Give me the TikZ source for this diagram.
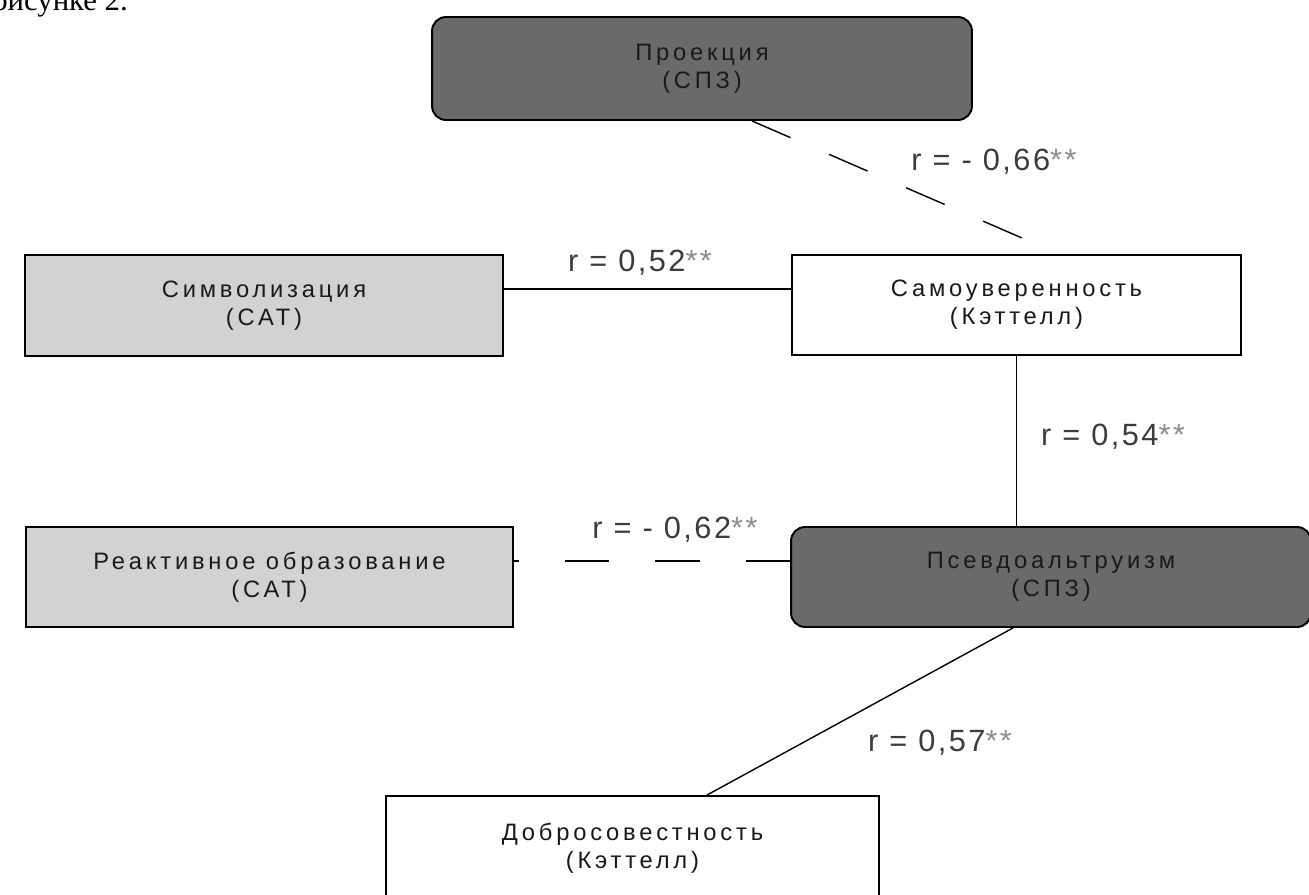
\documentclass[tikz,border=0pt]{standalone}
\usepackage{fontspec}
\setmainfont{Liberation Sans}
\newfontfamily\boxfont[LetterSpace=16]{Liberation Sans}
\newfontfamily\lblfont[LetterSpace=8]{Liberation Sans}
\newfontfamily\docfont{Liberation Serif}

\definecolor{darkbox}{RGB}{106,106,106}
\definecolor{lightbox}{RGB}{210,210,210}
\definecolor{textgray}{RGB}{60,60,60}
\definecolor{stargray}{RGB}{140,140,140}

\tikzset{
    scalebox/.style={draw=black, line width=1.1pt, align=center, inner sep=0pt,
        font=\boxfont\fontsize{13.5}{16}\selectfont, text=black!90},
    darkscale/.style={scalebox, fill=darkbox, rounded corners=0.28cm},
    lightscale/.style={scalebox, fill=lightbox},
    whitescale/.style={scalebox, fill=white},
    corrlabel/.style={font=\lblfont\fontsize{17.5}{20}\selectfont, text=textgray, inner sep=0pt},
    link/.style={line width=0.8pt, black}
}

\begin{document}
\begin{tikzpicture}[x=0.02cm, y=-0.02cm]
    % Frame of the picture
    \useasboundingbox (0,0) rectangle (1309,895);
    \clip (0,0) rectangle (1309,895);

    % Text of the page above the figure
    \node[anchor=base west, inner sep=0pt, font=\docfont\fontsize{17.5}{20}\selectfont] (pagetext) at (-8,11) {рисунке 2.};

    % Scales
    \node[darkscale, minimum width=10.8cm, minimum height=2.06cm] (proj) at (702,68.5) {Проекция\\(СПЗ)};
    \node[lightscale, minimum width=9.56cm, minimum height=2.02cm] (sym) at (264,305.5) {Символизация\\(САТ)};
    \node[whitescale, minimum width=8.98cm, minimum height=2cm] (samo) at (1016.5,305) {Самоуверенность\\(Кэттелл)};
    \node[lightscale, minimum width=9.74cm, minimum height=2cm] (react) at (269.5,577) {Реактивное образование\\(САТ)};
    \node[darkscale, minimum width=10.4cm, minimum height=2cm] (pseudo) at (1051,577) {Псевдоальтруизм\\(СПЗ)};
    \node[whitescale, minimum width=9.86cm, minimum height=2.08cm] (dobro) at (632.5,848) {Добросовестность\\(Кэттелл)};

    % Correlations
    \draw[link, dash pattern=on 0.84cm off 0.84cm] (proj.south -| 752,0) -- (samo.north -| 1059,0);
    \draw[link] (sym.east |- 0,289) -- (samo.west |- 0,289);
    \draw[link] (samo.south) -- (samo.south |- pseudo.north);
    \draw[link, dash pattern=on 0.89cm off 0.92cm] (pseudo.west |- 0,561) -- (react.east |- 0,561);
    \draw[link] (pseudo.south -| 1013,0) -- (dobro.north -| 707,0);

    % Labels
    \node[corrlabel] (lbl66) at (994,162) {r = - 0,66{\color{stargray}**}};
    \node[corrlabel] (lbl52) at (640,263) {r = 0,52{\color{stargray}**}};
    \node[corrlabel] (lbl54) at (1113,437) {r = 0,54{\color{stargray}**}};
    \node[corrlabel] (lbl62) at (675,530) {r = - 0,62{\color{stargray}**}};
    \node[corrlabel] (lbl57) at (940,743) {r = 0,57{\color{stargray}**}};
\end{tikzpicture}
\end{document}
